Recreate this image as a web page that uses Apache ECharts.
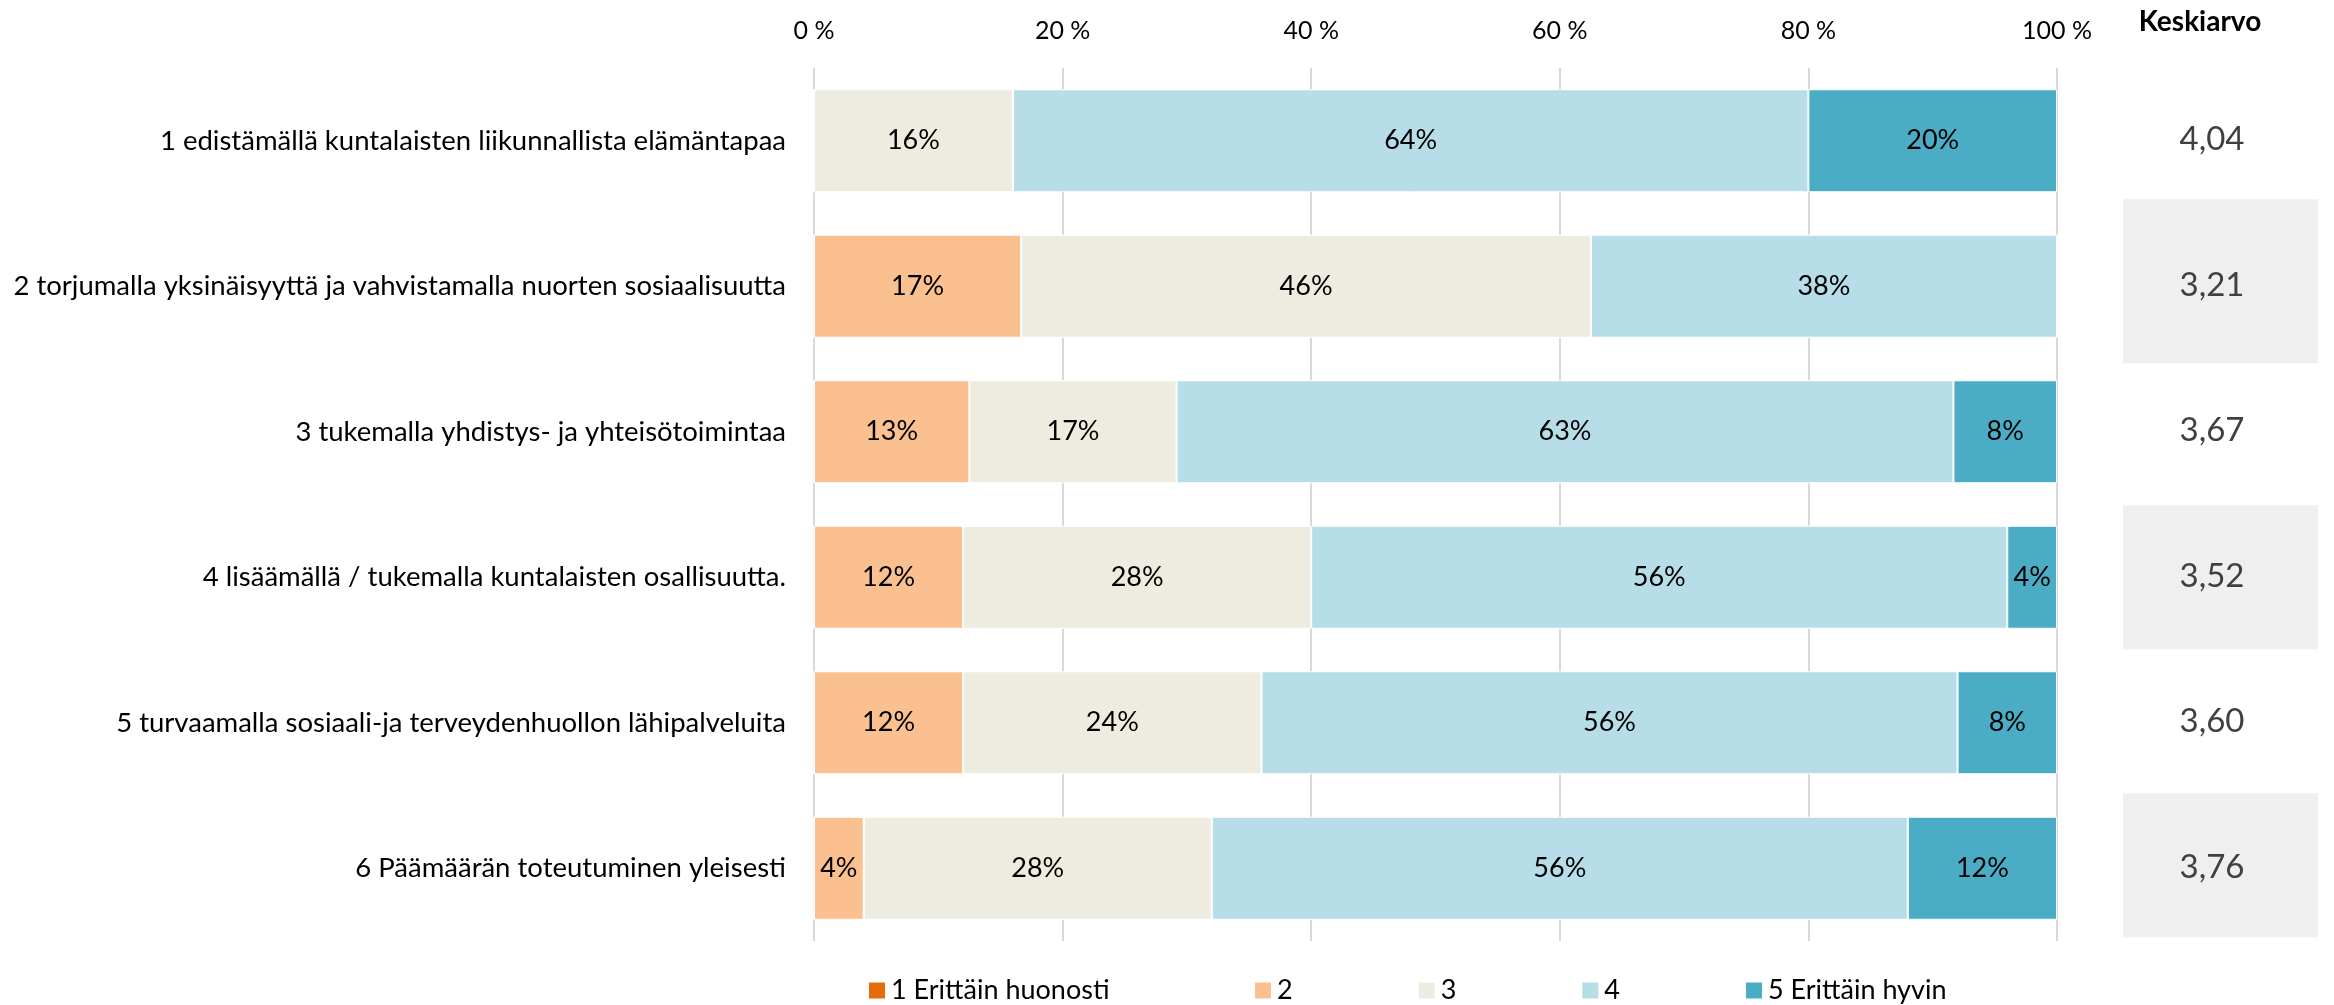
<!DOCTYPE html>
<html>
<head>
<meta charset="utf-8">
<script src="https://cdn.jsdelivr.net/npm/echarts@6/dist/echarts.min.js"></script>
<style>
html,body{margin:0;padding:0;background:#fff;}
#c{width:2334px;height:1005px;}
</style>
</head>
<body>
<div id="c"></div>
<script>
const categories = [
  '1 edistämällä kuntalaisten liikunnallista elämäntapaa',
  '2 torjumalla yksinäisyyttä ja vahvistamalla nuorten sosiaalisuutta',
  '3 tukemalla yhdistys- ja yhteisötoimintaa',
  '4 lisäämällä / tukemalla kuntalaisten osallisuutta.',
  '5 turvaamalla sosiaali-ja terveydenhuollon lähipalveluita',
  '6 Päämäärän toteutuminen yleisesti'
];
const seriesNames = ['1 Erittäin huonosti', '2', '3', '4', '5 Erittäin hyvin'];
const s1 = [0, 0, 0, 0, 0, 0];
const s2 = [0, 16.67, 12.5, 12, 12, 4];
const s3 = [16, 45.83, 16.67, 28, 24, 28];
const s4 = [64, 37.5, 62.5, 56, 56, 56];
const s5 = [20, 0, 8.33, 4, 8, 12];
const means = [4.04, 3.21, 3.67, 3.52, 3.60, 3.76];
const meanTitle = 'Keskiarvo';
const xTickMin = 0, xTickMax = 100, xTickStep = 20;

const colors = ['#E46C0A', '#FAC090', '#EEECE1', '#B7DEE8', '#4BACC6'];
const FONT = 'Lato, "Noto Sans", sans-serif';
const seriesData = [s1, s2, s3, s4, s5];

const chart = echarts.init(document.getElementById('c'), null, {renderer: 'canvas'});

const legendBase = {
  top: 972,
  icon: 'rect',
  itemWidth: 18,
  itemHeight: 18,
  itemGap: 124,
  textStyle: {fontFamily: FONT, fontSize: 27, color: '#000'},
  selectedMode: false
};

const option = {
  animation: false,
  backgroundColor: '#ffffff',
  textStyle: {fontFamily: FONT},
  grid: {left: 814, right: 277, top: 68, bottom: 64, containLabel: false, outerBoundsMode: 'none'},
  legend: [
    Object.assign({}, legendBase, {data: seriesNames.slice(0, 1), left: 862}),
    Object.assign({}, legendBase, {data: seriesNames.slice(1), left: 1248})
  ],
  xAxis: {
    type: 'value',
    position: 'top',
    min: xTickMin,
    max: xTickMax,
    interval: xTickStep,
    axisLine: {show: false},
    axisTick: {show: false},
    axisLabel: {formatter: '{value} %', fontFamily: FONT, fontSize: 25, color: '#000', margin: 25},
    splitLine: {show: true, lineStyle: {color: '#d9d9d9', width: 2}}
  },
  yAxis: {
    type: 'category',
    data: categories,
    inverse: true,
    axisLine: {show: false},
    axisTick: {show: false},
    axisLabel: {fontFamily: FONT, fontSize: 27.5, color: '#000', margin: 28}
  },
  series: seriesNames.map((name, i) => ({
    name: name,
    type: 'bar',
    stack: 'total',
    data: seriesData[i],
    barWidth: 103,
    itemStyle: {color: colors[i], borderColor: '#ffffff', borderWidth: 1},
    label: {
      show: true,
      position: 'inside',
      fontFamily: FONT,
      fontSize: 27,
      color: '#000',
      formatter: p => (p.value > 0 ? Math.round(p.value) + '%' : '')
    }
  }))
};

chart.setOption(option);

// Keskiarvo column (decoration + texts positioned from the category axis)
const colCenterX = 2212;
const boxLeft = 2123, boxWidth = 195;
const boxSpec = {1: [-87, 164], 3: [-72, 144], 5: [-75, 144]};
const graphics = [];
graphics.push({
  type: 'text', x: 2200, y: 22,
  style: {text: meanTitle, font: 'bold 28px ' + FONT, fill: '#000', textAlign: 'center', textVerticalAlign: 'middle'}
});
categories.forEach((c, i) => {
  const y = chart.convertToPixel({yAxisIndex: 0}, c);
  if (boxSpec[i]) {
    graphics.push({
      type: 'rect', z: 0,
      shape: {x: boxLeft, y: y + boxSpec[i][0], width: boxWidth, height: boxSpec[i][1]},
      style: {fill: '#efefef'}
    });
  }
  graphics.push({
    type: 'text', z: 1,
    x: colCenterX, y: y - 1,
    style: {text: means[i].toFixed(2).replace('.', ','), font: '33px ' + FONT, fill: '#404040', textAlign: 'center', textVerticalAlign: 'middle'}
  });
});
chart.setOption({graphic: graphics});
</script>
</body>
</html>
